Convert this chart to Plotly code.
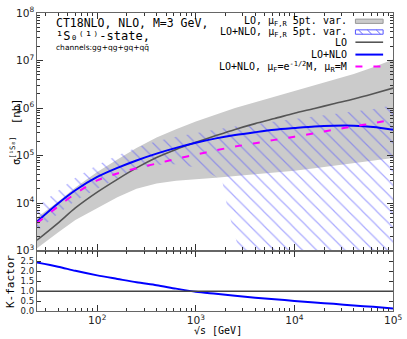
import plotly.graph_objects as go
from plotly.subplots import make_subplots

# sqrt(s) grid [GeV]
sqrt_s = [24.5, 40, 60, 100, 160, 250, 400, 630, 1000, 1600, 2500, 4000,
          6300, 1e4, 1.6e4, 2.5e4, 4e4, 6.3e4, 1e5]

# cross sections [nb]
sigma_lo = [1.66e3, 3.8e3, 7.9e3, 1.7e4, 3.16e4, 5.5e4, 9.1e4, 1.35e5, 1.9e5,
            2.63e5, 3.55e5, 4.7e5, 6.0e5, 7.8e5, 9.8e5, 1.23e6, 1.55e6, 2.0e6, 2.63e6]
sigma_nlo = [4.1e3, 9.8e3, 1.86e4, 3.55e4, 5.5e4, 7.9e4, 1.10e5, 1.45e5, 1.86e5,
             2.3e5, 2.7e5, 3.1e5, 3.5e5, 3.8e5, 4.1e5, 4.25e5, 4.25e5, 4.0e5, 3.5e5]
sigma_nlo_muf = [3.8e3, 8.5e3, 1.58e4, 3.0e4, 4.2e4, 5.4e4, 6.8e4, 8.5e4, 1.05e5,
                 1.29e5, 1.55e5, 1.82e5, 2.14e5, 2.5e5, 2.95e5, 3.5e5, 4.1e5, 4.8e5, 5.75e5]

# LO 5pt scale variation band
lo_var_hi = [5.0e3, 1.07e4, 2.14e4, 4.5e4, 8.3e4, 1.45e5, 2.4e5, 3.6e5, 5.2e5,
             7.2e5, 1.0e6, 1.32e6, 1.74e6, 2.3e6, 3.0e6, 4.0e6, 5.2e6, 7.2e6, 1.05e7]
lo_var_lo = [1.12e3, 2.4e3, 4.4e3, 7.9e3, 1.32e4, 2.0e4, 2.6e4, 2.95e4, 3.16e4,
             3.4e4, 3.6e4, 4.0e4, 4.4e4, 4.8e4, 5.4e4, 6.0e4, 6.8e4, 7.8e4, 8.9e4]

# LO+NLO 5pt scale variation band
nlo_var_hi = [8.5e3, 1.86e4, 3.4e4, 6.3e4, 1.0e5, 1.48e5, 2.0e5, 2.5e5, 3.0e5,
              3.55e5, 4.1e5, 4.7e5, 5.2e5, 5.9e5, 6.6e5, 7.4e5, 8.3e5, 9.5e5, 1.15e6]
nlo_var_lo_x = [24.5, 40, 60, 100, 160, 250, 400, 630, 1000, 1300, 1600, 1860,
                2090, 2340, 2630, 2950, 4000, 1e5]
nlo_var_lo = [2.6e3, 6.0e3, 1.12e4, 2.0e4, 3.3e4, 5.0e4, 6.3e4, 6.6e4, 5.6e4,
              4.5e4, 3.6e4, 2.8e4, 7.9e3, 3.2e3, 1.4e3, 6.3e2, 10, 10]

# K-factor
k_factor = [2.45, 2.24, 2.03, 1.80, 1.62, 1.45, 1.30, 1.13, 0.97, 0.87, 0.77,
            0.67, 0.59, 0.51, 0.43, 0.36, 0.28, 0.21, 0.13]
k_ticks = [0.0, 0.5, 1.0, 1.5, 2.0, 2.5]

MONO = "DejaVu Sans Mono"
SANS = "DejaVu Sans"

fig = make_subplots(rows=2, cols=1, shared_xaxes=True, vertical_spacing=0)

# bands
fig.add_trace(go.Scatter(
    x=sqrt_s + sqrt_s[::-1], y=lo_var_hi + lo_var_lo[::-1],
    mode="lines", fill="toself", fillcolor="#cbcbcb",
    line=dict(width=0), hoverinfo="skip"), row=1, col=1)

fig.add_trace(go.Scatter(
    x=sqrt_s + nlo_var_lo_x[::-1], y=nlo_var_hi + nlo_var_lo[::-1],
    mode="lines", fill="toself", fillcolor="rgba(0,0,0,0)",
    fillpattern=dict(shape="\\", size=10, solidity=0.12,
                     fgcolor="rgb(85,85,255)", bgcolor="rgba(0,0,0,0)"),
    line=dict(width=0), hoverinfo="skip"), row=1, col=1)

# curves
fig.add_trace(go.Scatter(x=sqrt_s, y=sigma_lo, mode="lines",
                         line=dict(color="#555555", width=1.6, shape="spline", smoothing=0.8)),
              row=1, col=1)
fig.add_trace(go.Scatter(x=sqrt_s, y=sigma_nlo, mode="lines",
                         line=dict(color="#0000ff", width=2, shape="spline", smoothing=0.8)),
              row=1, col=1)
fig.add_trace(go.Scatter(x=sqrt_s, y=sigma_nlo_muf, mode="lines",
                         line=dict(color="#ff00ff", width=2, dash="7px,11px",
                                   shape="spline", smoothing=0.8)),
              row=1, col=1)

# ratio panel
fig.add_trace(go.Scatter(x=sqrt_s, y=k_factor, mode="lines",
                         line=dict(color="#0000ff", width=2, shape="spline", smoothing=0.8)),
              row=2, col=1)
fig.add_hline(y=1, line=dict(color="#444444", width=1.4), row=2, col=1)

W, H = 407, 339
L, R, T, B = 37, 10, 5, 28
SPLIT = 62 / (H - T - B)   # ratio panel height fraction

axis_common = dict(showline=True, linecolor="#666666", linewidth=1.3, mirror="ticks",
                   ticks="inside", showgrid=False, zeroline=False, ticklabeloverflow="allow",
                   tickcolor="#333333", tickfont=dict(family=SANS, size=8.5, color="#222"))

fig.update_xaxes(type="log", range=[1.389, 5.0], dtick=1, exponentformat="power",
                 ticklen=6, minor=dict(ticks="inside", ticklen=3, tickcolor="#333333"),
                 **axis_common)
fig.update_xaxes(showticklabels=False, row=1, col=1)
fig.update_yaxes(type="log", range=[3, 8], dtick=1, exponentformat="power",
                 ticklen=6, minor=dict(ticks="inside", ticklen=3, tickcolor="#333333"),
                 domain=[SPLIT, 1.0], row=1, col=1, **axis_common)
fig.update_yaxes(range=[0, 3.05], tickvals=k_ticks, tickformat=".1f", ticklen=4,
                 domain=[0.0, SPLIT], row=2, col=1, **axis_common)


def px(x):
    return (x - L) / (W - L - R)


def py(y):
    return (H - B - y) / (H - T - B)


ann = []
# title block
ann.append(dict(text="CT18NLO, NLO, M=3 GeV,", x=px(54), y=py(15.5),
                font=dict(family=MONO, size=11.5, color="black")))
ann.append(dict(text="\u00b9S\u2080\u207d\u00b9\u207e-state,", x=px(54), y=py(28.5),
                font=dict(family=MONO, size=12, color="black")))
ann.append(dict(text="channels:gg+qg+gq+qq\u0304", x=px(54), y=py(40),
                font=dict(family=SANS, size=7.5, color="black")))
for a in ann:
    a.update(xref="paper", yref="paper", xanchor="left", yanchor="middle", showarrow=False)

# legend
legend_rows = [
    ("LO, \u03bc<sub>F,R</sub> 5pt. var.", 13.5),
    ("LO+NLO, \u03bc<sub>F,R</sub> 5pt. var.", 25),
    ("LO", 35),
    ("LO+NLO", 47.7),
    ("LO+NLO, \u03bc<sub>F</sub>=e<sup>-1/2</sup>M, \u03bc<sub>R</sub>=M", 60),
]
for txt, yy in legend_rows:
    ann.append(dict(text=txt, x=px(353), y=py(yy), xref="paper", yref="paper",
                    xanchor="right", yanchor="middle", showarrow=False,
                    font=dict(family=MONO, size=10, color="black")))

# axis titles
ann.append(dict(text="\u03c3<sup>[\u00b9S\u2088]</sup>\u00a0\u00a0[nb]", x=px(15), y=py(127),
                xref="paper", yref="paper", textangle=-90, showarrow=False,
                xanchor="center", yanchor="middle",
                font=dict(family=MONO, size=10.5, color="black")))
ann.append(dict(text="K-factor", x=px(10), y=py(281), xref="paper", yref="paper",
                textangle=-90, showarrow=False, xanchor="center", yanchor="middle",
                font=dict(family=MONO, size=11, color="black")))
ann.append(dict(text="\u221as [GeV]", x=px(220), y=py(331), xref="paper", yref="paper",
                showarrow=False, xanchor="center", yanchor="middle",
                font=dict(family=MONO, size=10, color="black")))

# legend symbols
x0, x1 = px(359), px(387)
shapes = [
    dict(type="rect", x0=x0, x1=x1, y0=py(15.7), y1=py(11.3),
         fillcolor="#cbcbcb", line=dict(color="#999999", width=1)),
    dict(type="rect", x0=x0, x1=x1, y0=py(26.8), y1=py(22.3),
         fillcolor="white", line=dict(color="#5555ff", width=1)),
    dict(type="line", x0=x0, x1=x1, y0=py(35), y1=py(35),
         line=dict(color="#555555", width=1.6)),
    dict(type="line", x0=x0, x1=x1, y0=py(47.7), y1=py(47.7),
         line=dict(color="#0000ff", width=2)),
    dict(type="line", x0=x0, x1=x1, y0=py(60), y1=py(60),
         line=dict(color="#ff00ff", width=2, dash="7px,11px")),
]
for hx in (362, 371, 380):
    shapes.append(dict(type="line", x0=px(hx), x1=px(hx + 4.5), y0=py(22.3), y1=py(26.8),
                       line=dict(color="#6464ff", width=1)))
for s in shapes:
    s.update(xref="paper", yref="paper")

fig.update_layout(
    width=W, height=H,
    margin=dict(l=L, r=R, t=T, b=B),
    plot_bgcolor="white", paper_bgcolor="white",
    showlegend=False,
    annotations=ann,
    shapes=list(fig.layout.shapes) + shapes,
)

fig.write_html("out.html", config={"displayModeBar": False},
               post_script="document.body.style.margin='0';")
